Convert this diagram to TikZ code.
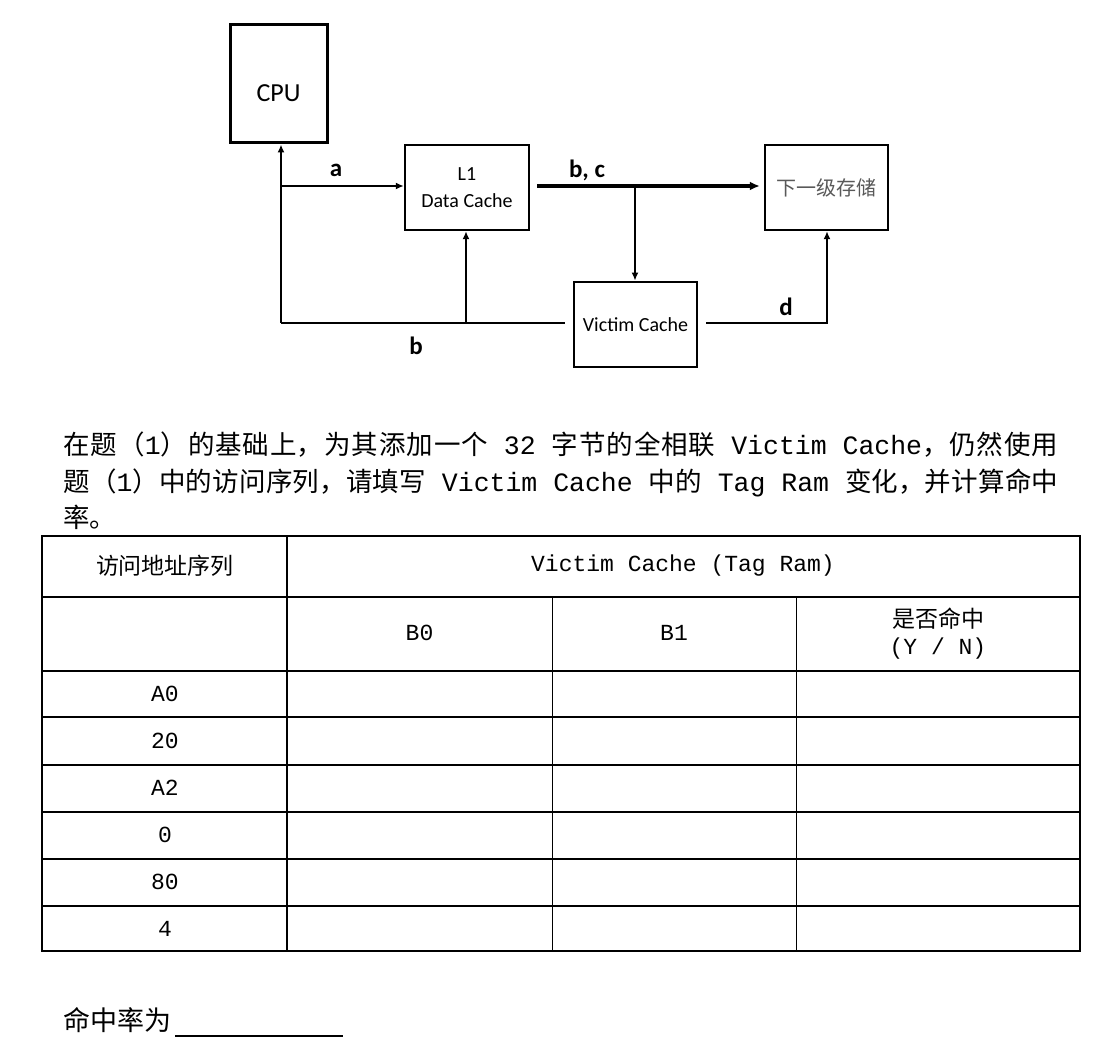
\documentclass[tikz,border=0pt]{standalone}
\usepackage{fontspec}
\setmainfont{Noto Sans CJK SC}
\setmonofont{Liberation Mono}
\newfontfamily\calib{Carlito}
\usetikzlibrary{arrows.meta}
\XeTeXlinebreaklocale "zh"
\XeTeXlinebreakskip = 0pt plus 1pt

\begin{document}
\begin{tikzpicture}[x=0.5pt,y=-0.5pt,>={Latex[length=4pt,width=3.5pt]},
  unit/.style={shape=rectangle,draw,line width=1.2pt,inner sep=0pt,minimum width=61.5pt,minimum height=42.5pt,font=\calib\fontsize{10}{13.5}\selectfont,align=center},
  wire/.style={line width=1pt},
  lbl/.style={font=\calib\bfseries\fontsize{12.5}{14}\selectfont,inner sep=0pt},
  cjkcell/.style={inner sep=0pt,font=\fontsize{11.5}{13.5}\selectfont,align=center},
  ttcell/.style={inner sep=0pt,font=\ttfamily\fontsize{11.5}{13.5}\selectfont}]
\useasboundingbox (0,0) rectangle (1110,1053);

\path (278.5,84) node (cpu) [unit,line width=1.5pt,minimum width=48.5pt,minimum height=59pt,label={[font=\calib\fontsize{13}{15}\selectfont,yshift=-4.5pt]center:CPU}] {};
\path (467,187.5) node (l1) [unit,minimum width=62pt] {L1\\Data Cache};
\path (826.5,187.5) node (next) [unit,text=black!65,font=\rmfamily\fontsize{10}{13.5}\selectfont] {下一级存储};
\path (635.5,324.5) node (victim) [unit,line width=1.4pt] {Victim Cache};

\coordinate (jtop) at (281,186);
\coordinate (jbot) at (281,323);
\coordinate (jmid) at (466,323);
\coordinate (jsplit) at (635,186);
\coordinate (jd) at (827,323);

\draw [wire,->] (jbot) to (jbot |- cpu.south);
\draw [wire,->] (jtop) to (jtop -| l1.west);
\draw [wire] ([xshift=-4pt]victim.west |- jbot) to (jbot);
\draw [wire,->] (jmid) to (jmid |- l1.south);
\draw [line width=1.6pt,-{Latex[length=5pt,width=4.5pt]},shorten >=2pt] ([xshift=3.5pt]l1.east |- jsplit) to (jsplit -| next.west);
\draw [wire,->] (jsplit) to (jsplit |- victim.north);
\draw [wire,->] ([xshift=4pt]victim.east |- jd) -- (jd) -- (jd |- next.south);

\path (336,170) node (labela) [lbl] {a};
\path (587,170) node (labelbc) [lbl] {b, c};
\path (416,346) node (labelb) [lbl] {b};
\path (786,307) node (labeld) [lbl] {d};

\path (63,481) node (task) [anchor=west,inner sep=0pt,text width=497.5pt,align=justify,font=\fontsize{13.25}{18.25}\selectfont] {在题（{\ttfamily 1}）的基础上，为其添加一个{\ttfamily\ 32 }字节的全相联{\ttfamily\ Victim Cache}，仍然使用\linebreak 题（{\ttfamily 1}）中的访问序列，请填写{\ttfamily\ Victim Cache }中的{\ttfamily\ Tag Ram }变化，并计算命中\linebreak 率。};

\draw [line width=1pt] (42,536) rectangle (1080,951);
\foreach \y/\w in {597/1pt,671/1pt,717/1.4pt,765/1.4pt,812/0.8pt,859/0.8pt,906/1.4pt}
  \draw [line width=\w] (42,\y) -- (1080,\y);
\draw [line width=0.6pt] (287,536) -- (287,951);
\foreach \x in {552,796}
  \draw [line width=0.5pt] (\x,597) -- (\x,951);

\path (165,566) node (seqhead) [cjkcell] {访问地址序列};
\path (683,566) node (vchead) [ttcell] {Victim Cache (Tag Ram)};
\path (419.5,633) node (bzero) [ttcell] {B0};
\path (674,633) node (bone) [ttcell] {B1};
\path (938,634) node (hithead) [cjkcell] {是否命中\\{\ttfamily (Y / N)}};
\foreach \t [count=\i] in {A0,20,A2,0,80,4}
  \path (165,{694+47*(\i-1)}) node (row\i) [ttcell] {\t};

\path (63,1020) node (hitrate) [anchor=west,inner sep=0pt,font=\fontsize{13.5}{16}\selectfont] {命中率为};
\draw [line width=0.6pt] (175,1036) -- (343,1036);

\end{tikzpicture}
\end{document}
